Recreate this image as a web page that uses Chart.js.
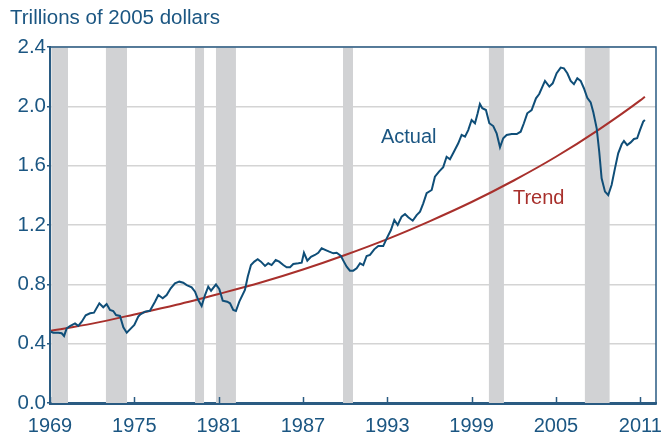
<!DOCTYPE html>
<html><head><meta charset="utf-8">
<script src="https://cdn.jsdelivr.net/npm/chart.js@4/dist/chart.umd.min.js"></script>
<style>html,body{margin:0;padding:0;background:#fff}#wrap{width:662px;height:437px}</style>
</head><body><div id="wrap"><canvas id="c" width="662" height="437"></canvas></div>
<script>
const titleText = 'Trillions of 2005 dollars';
const actualLabel = 'Actual';
const trendLabel = 'Trend';
const xTickYears = [1969, 1975, 1981, 1987, 1993, 1999, 2005, 2011];
const yTickValues = [0, 0.4, 0.8, 1.2, 1.6, 2.0, 2.4];

const actualYears = [1969.07,1969.23,1969.59,1969.83,1970.00,1970.19,1970.42,1970.78,1971.01,1971.26,1971.54,1971.85,1972.13,1972.51,1972.79,1973.03,1973.27,1973.50,1973.70,1973.98,1974.22,1974.46,1974.76,1975.00,1975.28,1975.40,1975.76,1976.11,1976.47,1976.71,1977.02,1977.30,1977.59,1977.89,1978.20,1978.48,1978.73,1979.08,1979.32,1979.55,1979.79,1980.03,1980.26,1980.46,1980.81,1981.05,1981.29,1981.61,1981.81,1982.04,1982.23,1982.47,1982.87,1983.07,1983.30,1983.54,1983.78,1984.01,1984.30,1984.53,1984.77,1985.06,1985.31,1985.60,1985.84,1986.08,1986.31,1986.67,1986.91,1987.07,1987.31,1987.57,1987.85,1988.09,1988.33,1988.62,1988.87,1989.16,1989.40,1989.70,1989.90,1990.11,1990.34,1990.58,1990.82,1991.06,1991.29,1991.53,1991.77,1992.07,1992.36,1992.71,1992.96,1993.26,1993.50,1993.74,1994.02,1994.26,1994.49,1994.81,1995.09,1995.33,1995.56,1995.80,1996.16,1996.39,1996.68,1996.98,1997.22,1997.46,1997.74,1998.05,1998.29,1998.53,1998.76,1999.00,1999.24,1999.43,1999.59,1999.76,2000.02,2000.26,2000.54,2000.78,2001.02,2001.25,2001.49,2001.85,2002.21,2002.49,2002.72,2002.96,2003.27,2003.58,2003.81,2004.22,2004.53,2004.77,2005.05,2005.34,2005.57,2005.81,2006.05,2006.28,2006.52,2006.76,2006.99,2007.23,2007.47,2007.66,2007.90,2008.08,2008.25,2008.49,2008.72,2008.96,2009.20,2009.43,2009.68,2009.84,2010.07,2010.32,2010.55,2010.78,2010.98,2011.21,2011.33];
const actualValues = [0.480,0.474,0.474,0.470,0.452,0.503,0.519,0.537,0.520,0.548,0.591,0.605,0.609,0.672,0.645,0.667,0.627,0.620,0.593,0.587,0.510,0.474,0.503,0.526,0.582,0.595,0.616,0.622,0.683,0.728,0.706,0.728,0.773,0.807,0.818,0.811,0.795,0.780,0.750,0.694,0.654,0.728,0.784,0.757,0.800,0.767,0.690,0.683,0.672,0.627,0.620,0.683,0.762,0.851,0.930,0.953,0.969,0.953,0.924,0.942,0.930,0.964,0.953,0.930,0.915,0.915,0.937,0.942,0.946,1.013,0.959,0.986,0.998,1.013,1.043,1.031,1.020,1.009,1.013,0.991,0.955,0.919,0.892,0.892,0.908,0.942,0.930,0.991,0.998,1.036,1.058,1.058,1.110,1.166,1.234,1.200,1.256,1.274,1.252,1.229,1.267,1.290,1.346,1.414,1.436,1.526,1.560,1.590,1.660,1.643,1.694,1.751,1.807,1.795,1.840,1.908,1.886,1.953,2.016,1.987,1.975,1.886,1.867,1.818,1.724,1.785,1.807,1.813,1.813,1.829,1.886,1.953,1.975,2.054,2.083,2.171,2.133,2.155,2.223,2.261,2.256,2.223,2.171,2.149,2.189,2.171,2.122,2.058,2.027,1.960,1.852,1.694,1.515,1.425,1.402,1.470,1.582,1.683,1.744,1.766,1.739,1.757,1.780,1.785,1.840,1.897,1.908];

const trendYears = [1969.07,1972,1975,1978,1981,1984,1987,1990,1993,1996,1999,2002,2005,2008,2011,2011.33];
const trendValues = [0.487,0.535,0.597,0.662,0.735,0.812,0.900,0.998,1.105,1.225,1.355,1.500,1.660,1.840,2.040,2.065];

const recessionStart = [1969.10,1972.98,1979.32,1980.81,1989.85,2000.23,2007.06];
const recessionEnd   = [1970.28,1974.48,1979.96,1982.23,1990.56,2001.30,2008.82];

// label anchors (data coordinates)
const actualLabelPos = {x: 1992.55, y: 1.75};
const trendLabelPos = {x: 2001.94, y: 1.34};

const FONT = "'Liberation Sans', Arial, Helvetica, sans-serif";
const TEXT = '#1b5682';
const AXIS = '#2a5b82';
const ACTUAL_C = '#0f4e78';
const TREND_C = '#a8302c';
const BAND = '#d1d2d4';
const GRID = '#d4d4d4';

const overlay = {
  id: 'overlay',
  beforeDatasetsDraw(chart) {
    const {ctx, chartArea: a, scales: {x}} = chart;
    ctx.save();
    ctx.fillStyle = BAND;
    recessionStart.forEach((s, i) => {
      const x0 = x.getPixelForValue(s), x1 = x.getPixelForValue(recessionEnd[i]);
      ctx.fillRect(x0, a.top, x1 - x0, a.bottom - a.top);
    });
    ctx.restore();
  },
  afterDatasetsDraw(chart) {
    const {ctx, chartArea: a, scales: {x, y}} = chart;
    ctx.save();
    ctx.strokeStyle = AXIS;
    ctx.lineWidth = 1.5;
    ctx.beginPath();
    ctx.moveTo(a.left - 1, a.top); ctx.lineTo(a.right, a.top); ctx.lineTo(a.right, a.bottom);
    ctx.stroke();
    ctx.lineWidth = 2;
    ctx.beginPath();
    ctx.moveTo(a.left, a.top); ctx.lineTo(a.left, a.bottom + 1); ctx.lineTo(a.right + 0.75, a.bottom + 1);
    ctx.stroke();
    ctx.lineWidth = 1.5;
    xTickYears.forEach(v => {
      const px = Math.round(x.getPixelForValue(v)) + 0.5;
      ctx.beginPath(); ctx.moveTo(px, a.bottom); ctx.lineTo(px, a.bottom - 6); ctx.stroke();
    });
    ctx.font = '20px ' + FONT;
    ctx.textBaseline = 'alphabetic';
    ctx.textAlign = 'left';
    ctx.fillStyle = TEXT;
    ctx.fillText(actualLabel, x.getPixelForValue(actualLabelPos.x), y.getPixelForValue(actualLabelPos.y));
    ctx.fillStyle = TREND_C;
    ctx.fillText(trendLabel, x.getPixelForValue(trendLabelPos.x), y.getPixelForValue(trendLabelPos.y));
    ctx.restore();
  }
};

new Chart(document.getElementById('c'), {
  type: 'line',
  data: {
    datasets: [
      {
        label: actualLabel,
        data: actualYears.map((yr, i) => ({x: yr, y: actualValues[i]})),
        borderColor: ACTUAL_C, borderWidth: 2, pointRadius: 0, tension: 0, fill: false
      },
      {
        label: trendLabel,
        data: trendYears.map((yr, i) => ({x: yr, y: trendValues[i]})),
        borderColor: TREND_C, borderWidth: 2, pointRadius: 0, cubicInterpolationMode: 'monotone', fill: false
      }
    ]
  },
  options: {
    responsive: false,
    animation: false,
    devicePixelRatio: 1,
    layout: {padding: {left: 10, right: 6, top: 0, bottom: 0}},
    plugins: {
      legend: {display: false},
      tooltip: {enabled: false},
      title: {
        display: true, text: titleText, align: 'start', color: TEXT,
        font: {family: FONT, size: 20.5, weight: 'normal', lineHeight: 1.2},
        padding: {top: 6, bottom: 16.4}
      }
    },
    scales: {
      x: {
        type: 'linear', min: 1969, max: 2012.12,
        afterBuildTicks: s => { s.ticks = xTickYears.map(v => ({value: v})); },
        afterFit: s => { s.height = 34; s.paddingRight = 0; s.paddingLeft = 0; },
        ticks: {callback: v => String(v), color: TEXT, font: {family: FONT, size: 20}, padding: 3, maxRotation: 0, autoSkip: false},
        grid: {display: false},
        border: {display: true, color: AXIS, width: 2}
      },
      y: {
        type: 'linear', min: 0, max: 2.4,
        afterBuildTicks: s => { s.ticks = yTickValues.map(v => ({value: v})); },
        afterFit: s => { s.width = 40; },
        ticks: {callback: v => Number(v).toFixed(1), color: TEXT, font: {family: FONT, size: 20.5}, padding: 1},
        grid: {color: GRID, lineWidth: 1.5, tickColor: AXIS, tickLength: 3},
        border: {display: true, color: AXIS, width: 2}
      }
    }
  },
  plugins: [overlay]
});
</script>
</body></html>
